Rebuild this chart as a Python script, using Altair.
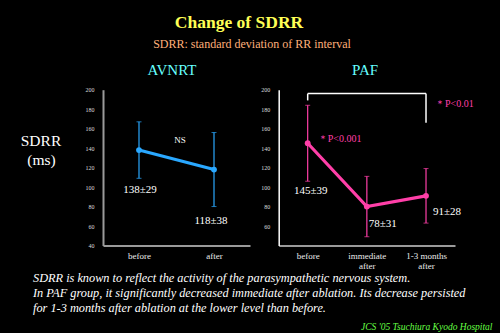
import altair as alt
import pandas as pd

# ---------------- data ----------------
avnrt_phase = ["before", "after"]
avnrt_mean = [138, 118]
avnrt_sd = [29, 38]
avnrt_label = ["138±29", "118±38"]

paf_phase = ["before", "immediate\nafter", "1-3 months\nafter"]
paf_mean = [145, 80, 91]
paf_sd = [39, 31, 28]
paf_label = ["145±39", "78±31", "91±28"]

avnrt_ticks = [40, 60, 80, 100, 120, 140, 160, 180, 200]
paf_ticks = [60, 80, 100, 120, 140, 160, 180, 200]

# significance bracket (y levels in ms)
bracket_top = 196
bracket_left_end = 189
bracket_right_end = 166
sig_texts = ["＊P<0.001", "＊P<0.01"]
sig_levels = [145, 185]

title = "Change of SDRR"
subtitle = "SDRR: standard deviation of RR interval"
group_titles = ["AVNRT", "PAF"]
note_lines = [
    "SDRR is known to reflect the activity of the parasympathetic nervous system.",
    "In PAF group, it significantly decreased immediate after ablation. Its decrease persisted",
    "for 1-3 months after ablation at the lower level than before.",
]
footer = "JCS '05 Tsuchiura Kyodo Hospital"

# ---------------- styles ----------------
SERIF = "Liberation Serif"
BLUE = "#2aa8ff"
PINK = "#ff3fa8"
Y_RANGE = [245.5, 89.7]

df_a = pd.DataFrame({
    "phase": avnrt_phase,
    "mean": avnrt_mean,
    "lo": [m - s for m, s in zip(avnrt_mean, avnrt_sd)],
    "hi": [m + s for m, s in zip(avnrt_mean, avnrt_sd)],
    "label": avnrt_label,
})
df_p = pd.DataFrame({
    "phase": paf_phase,
    "mean": paf_mean,
    "lo": [m - s for m, s in zip(paf_mean, paf_sd)],
    "hi": [m + s for m, s in zip(paf_mean, paf_sd)],
    "label": paf_label,
})


def x_enc(domain, rng, pad, field="phase"):
    return alt.X(
        f"{field}:N",
        sort=domain,
        scale=alt.Scale(type="point", domain=domain, range=rng, padding=pad),
        axis=alt.Axis(
            orient="bottom", offset=Y_RANGE[0] - 333, title=None,
            domainColor="#9a9a9a", domainWidth=2, ticks=False, grid=False,
            labelFont=SERIF, labelFontSize=9, labelColor="#ececec",
            labelPadding=6, labelAngle=0, labelLineHeight=10,
            labelExpr="split(datum.label, '\\n')",
        ),
    )


def y_enc(field, ticks, xpos, color, width):
    return alt.Y(
        f"{field}:Q",
        scale=alt.Scale(domain=[40, 200], range=Y_RANGE, nice=False, zero=False),
        axis=alt.Axis(
            orient="left", offset=-xpos, title=None, values=ticks,
            domainColor=color, domainWidth=width, ticks=False, grid=False,
            labelFont=SERIF, labelFontSize=6, labelColor="#dddddd",
            labelPadding=9,
        ),
    )


def group(df, domain, rng, pad, ticks, xpos, axcolor, axwidth, color, offsets):
    X = x_enc(domain, rng, pad)
    base = alt.Chart(df)
    bars = base.mark_rule(color=color, strokeWidth=1.2).encode(
        x=X, y=y_enc("lo", ticks, xpos, axcolor, axwidth), y2="hi:Q")
    cap_lo = base.mark_tick(color=color, size=5, thickness=1).encode(
        x=X, y=y_enc("lo", ticks, xpos, axcolor, axwidth))
    cap_hi = base.mark_tick(color=color, size=5, thickness=1).encode(
        x=X, y=y_enc("hi", ticks, xpos, axcolor, axwidth))
    line = base.mark_line(color=color, strokeWidth=3.2).encode(
        x=X, y=y_enc("mean", ticks, xpos, axcolor, axwidth))
    pts = base.mark_circle(color=color, size=34, opacity=1).encode(
        x=X, y=y_enc("mean", ticks, xpos, axcolor, axwidth))
    layers = [bars, cap_lo, cap_hi, line, pts]
    for i, (dx, dy) in enumerate(offsets):
        layers.append(
            alt.Chart(df.iloc[[i]]).mark_text(
                font=SERIF, fontSize=11, color="white", dx=dx, dy=dy,
                baseline="middle", align="center",
            ).encode(x=X, y=y_enc("mean", ticks, xpos, axcolor, axwidth), text="label:N")
        )
    return layers


left_layers = group(df_a, avnrt_phase, [103, 250], 0.48, avnrt_ticks, 103,
                    "#9a9a9a", 2, BLUE, [(1, 40), (-3, 51)])
# NS annotation anchored to the AVNRT "after" point
ns = alt.Chart(df_a.iloc[[1]]).mark_text(
    font=SERIF, fontSize=9, color="white", dx=-34, dy=-30, baseline="middle"
).encode(x=x_enc(avnrt_phase, [103, 250], 0.48),
         y=y_enc("mean", avnrt_ticks, 103, "#9a9a9a", 2), text=alt.value("NS"))
left = alt.layer(*left_layers, ns)

right_layers = group(df_p, paf_phase, [278.7, 455], 0.49, paf_ticks, 278.7,
                     "#ffffff", 1.5, PINK, [(3, 48), (16, 17), (21, 16)])

Xp = x_enc(paf_phase, [278.7, 455], 0.49)
br = pd.DataFrame({
    "phase": [paf_phase[0], paf_phase[0], paf_phase[2]],
    "phase2": [paf_phase[2], paf_phase[0], paf_phase[2]],
    "y": [bracket_top, bracket_top, bracket_top],
    "y2": [bracket_top, bracket_left_end, bracket_right_end],
})
bracket = alt.Chart(br).mark_rule(color="white", strokeWidth=1.5).encode(
    x=Xp, x2="phase2:N",
    y=y_enc("y", paf_ticks, 278.7, "#ffffff", 1.5), y2="y2:Q")
sig = pd.DataFrame({"phase": [paf_phase[0], paf_phase[2]], "y": sig_levels,
                    "t": sig_texts})
sig1 = alt.Chart(sig.iloc[[0]]).mark_text(
    font=SERIF, fontSize=10, color=PINK, align="left", dx=10, dy=-4, baseline="middle"
).encode(x=Xp, y=y_enc("y", paf_ticks, 278.7, "#ffffff", 1.5), text="t:N")
sig2 = alt.Chart(sig.iloc[[1]]).mark_text(
    font=SERIF, fontSize=10, color=PINK, align="left", dx=9, dy=0, baseline="middle"
).encode(x=Xp, y=y_enc("y", paf_ticks, 278.7, "#ffffff", 1.5), text="t:N")
right = alt.layer(bracket, *right_layers, sig1, sig2)


def txt(s, x, y, size, color, **kw):
    return alt.Chart(pd.DataFrame({"t": [s]})).mark_text(
        font=SERIF, fontSize=size, color=color, baseline="middle", **kw
    ).encode(x=alt.value(x), y=alt.value(y), text="t:N")


texts = [
    txt(title, 239, 23, 17.5, "#ffff55", fontWeight="bold"),
    txt(subtitle, 252, 43.5, 12, "#ffb07a"),
    txt(group_titles[0], 172, 70, 15, "#66ffff"),
    txt(group_titles[1], 365, 70, 15, "#66ffff"),
    txt("SDRR", 41, 141, 15.5, "white"),
    txt("(ms)", 41.5, 160, 15.5, "white"),
    txt("\n".join(note_lines), 33, 278.3, 12.3, "white", align="left",
        fontStyle="italic", lineBreak="\n", lineHeight=15),
    txt(footer, 492.5, 326.5, 9.5, "#66ff44", align="right", fontStyle="italic"),
]

chart = alt.layer(left, right, *texts).resolve_scale(
    x="independent", y="independent"
).properties(
    width=500, height=333, background="black",
    autosize=alt.AutoSizeParams(type="none"), padding=0,
).configure_view(stroke=None)

chart.save("out.html", embed_options={"renderer": "svg", "actions": False})
